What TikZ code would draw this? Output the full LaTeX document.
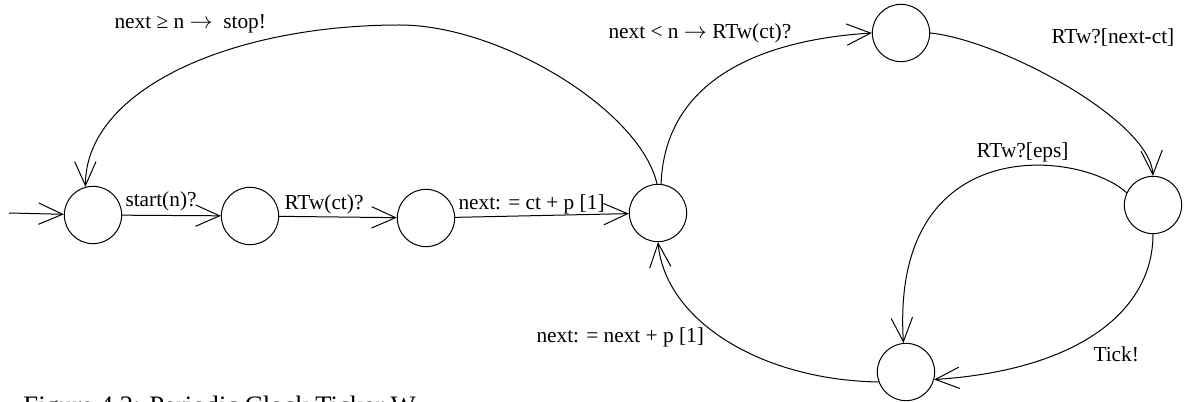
\documentclass[tikz,border=0pt]{standalone}
\usepackage{fontspec}
\setmainfont{Liberation Serif}
\usetikzlibrary{arrows.meta}

\tikzset{every picture/.style={line width=0.75pt}}
\tikzset{loc/.style={circle,draw,minimum size=43pt,inner sep=0pt},
  trans/.style={-{Straight Barb[length=18pt,width=16pt]}},
  lbl/.style={anchor=base west,inner sep=0.75pt,font=\fontsize{16}{19}\selectfont}}

\begin{document}
\begin{tikzpicture}[x=0.75pt,y=0.75pt,yscale=-1,xscale=1]
\useasboundingbox (0,0) rectangle (1185,402);

% locations
\draw (93,215) node (q0) [loc] {};
\draw (250,216) node (q1) [loc] {};
\draw (426,218) node (q2) [loc] {};
\draw (658,213) node (q3) [loc] {};
\draw (901,33) node (q4) [loc] {};
\draw (1153,205) node (q5) [loc] {};
\draw (906,372) node (q6) [loc] {};
\coordinate (init) at (9,213);

% transitions
\draw [trans] (init) -- (q0);
\draw [trans] (q0) -- (q1);
\draw [trans] (q1) -- (q2);
\draw [trans] (q2) -- (q3);
\draw [trans] (q3.92) .. controls (640,110) and (500,25) .. (400,25) .. controls (230,25) and (85,90) .. (q0.105);
\draw [trans] (q3.84) .. controls (665,80) and (760,40) .. (q4.180);
\draw [trans] (q4.0) .. controls (1000,40) and (1150,120) .. (q5.90);
\draw [trans] (q5.155) .. controls (1080,150) and (890,130) .. (q6.95);
\draw [trans] (q5.270) .. controls (1153,310) and (1080,370) .. (q6.-15);
\draw [trans] (q6.200) .. controls (760,380) and (665,320) .. (q3.270);

\draw (113,29) node (lstop) [lbl] {next ≥ n $\rightarrow$\ \ stop!};
\draw (124,207) node (lstart) [lbl] {start(n)?};
\draw (283,210) node (lrtw) [lbl] {RTw(ct)?};
\draw (457,210) node (linit) [lbl] {next: = ct + p [1]};
\draw (607,39) node (lless) [lbl] {next < n $\rightarrow$ RTw(ct)?};
\draw (1050,44) node (lwait) [lbl] {RTw?[next-ct]};
\draw (975,158) node (leps) [lbl] {RTw?[eps]};
\draw (1092,362) node (ltick) [lbl] {Tick!};
\draw (535,343) node (lnext) [lbl] {next: = next + p [1]};
\draw (22,415) node (cap) [lbl,font=\fontsize{20}{24}\selectfont] {Figure 4.2: Periodic Clock Ticker W};

\end{tikzpicture}
\end{document}
